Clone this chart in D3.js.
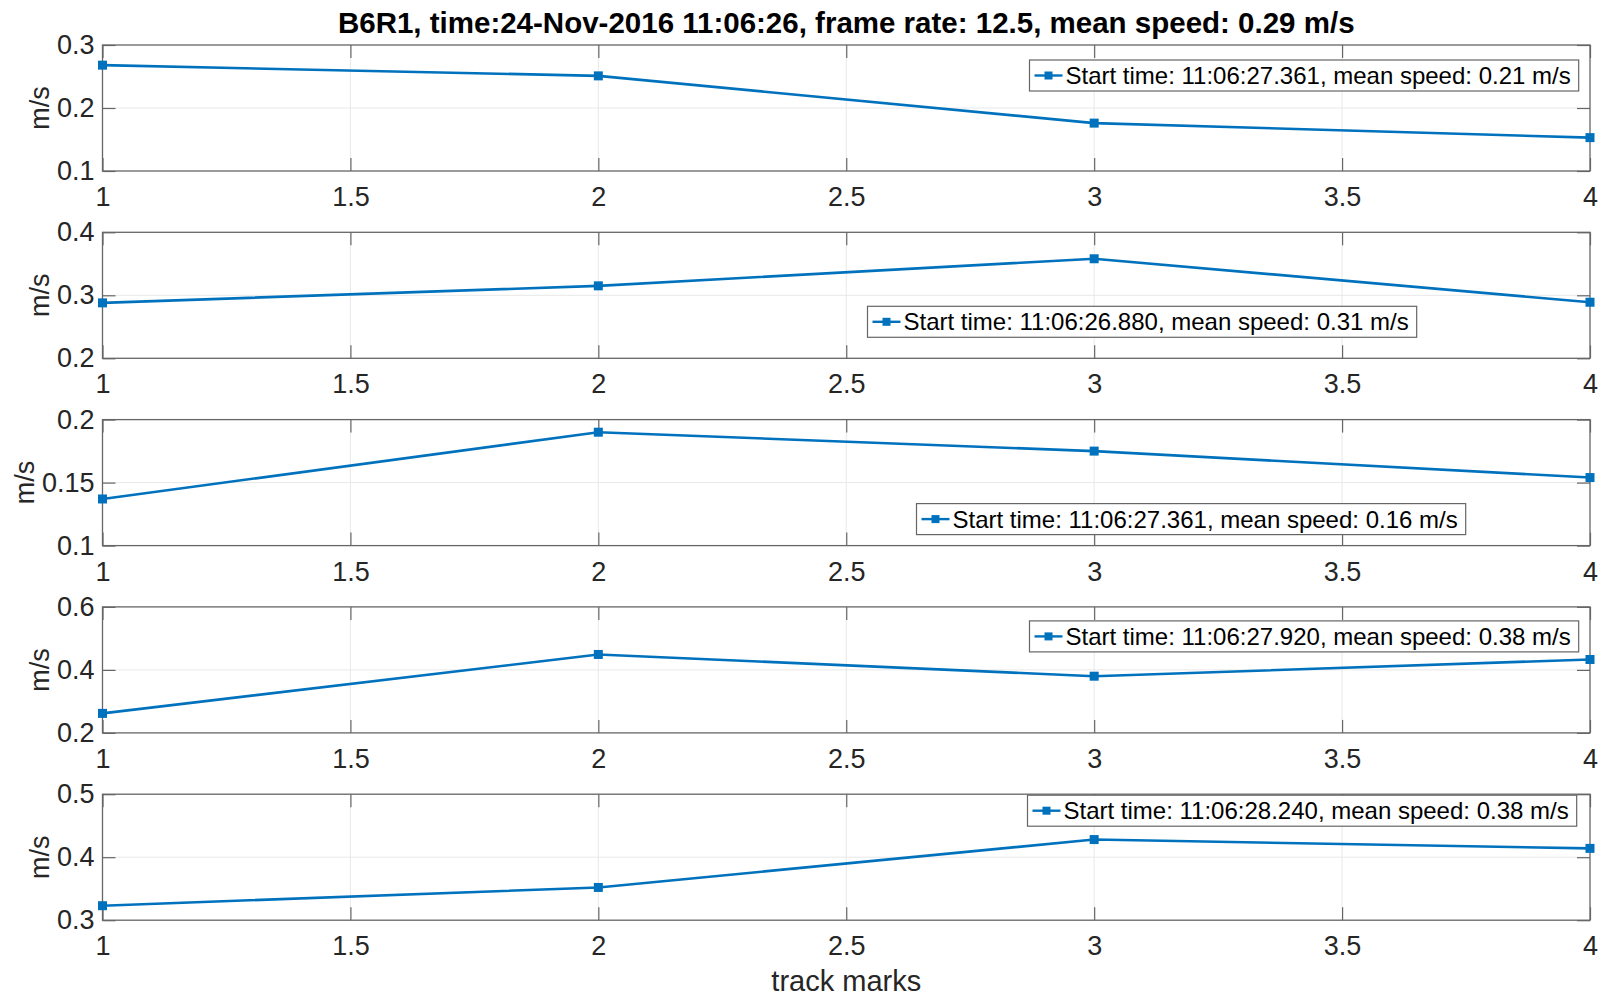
<!DOCTYPE html>
<html lang="en">
<head>
  <meta charset="UTF-8">
  <script src="https://d3js.org/d3.v7.min.js"></script>
  <title>Track speeds</title>
  <style>
    body { margin: 0; background: #fff; }
    svg { display: block; font-family: "Liberation Sans", Arial, sans-serif; }
    .tick-label { font-size: 27px; fill: #262626; }
    .grid line { stroke: #e8e8e8; stroke-width: 1; }
  </style>
</head>
<body>
  <svg id="chart" width="1608" height="999"></svg>

  <script>
    // data
    const titleText = "B6R1, time:24-Nov-2016 11:06:26, frame rate: 12.5, mean speed: 0.29 m/s";
    const xLabel = "track marks";
    const yLabel = "m/s";
    const xTicks = [1, 1.5, 2, 2.5, 3, 3.5, 4];
    const marks = [1, 2, 3, 4];

    const speeds1 = [0.268, 0.251, 0.176, 0.153];
    const speeds2 = [0.288, 0.315, 0.358, 0.289];
    const speeds3 = [0.137, 0.190, 0.175, 0.154];
    const speeds4 = [0.262, 0.449, 0.380, 0.433];
    const speeds5 = [0.323, 0.352, 0.428, 0.414];
    const allSpeeds = [speeds1, speeds2, speeds3, speeds4, speeds5];

    const yDomains = [[0.1, 0.3], [0.2, 0.4], [0.1, 0.2], [0.2, 0.6], [0.3, 0.5]];
    const yTicks = [[0.1, 0.2, 0.3], [0.2, 0.3, 0.4], [0.1, 0.15, 0.2], [0.2, 0.4, 0.6], [0.3, 0.4, 0.5]];

    const legendLabels = [
      "Start time: 11:06:27.361, mean speed: 0.21 m/s",
      "Start time: 11:06:26.880, mean speed: 0.31 m/s",
      "Start time: 11:06:27.361, mean speed: 0.16 m/s",
      "Start time: 11:06:27.920, mean speed: 0.38 m/s",
      "Start time: 11:06:28.240, mean speed: 0.38 m/s"
    ];

    // layout
    const left = 102.5, right = 1590;
    const panelTop0 = 45, panelStep = 187.3, panelH = 126;
    const legendAt = [[927, 15], [765, 74], [814, 84], [927, 14], [925, 1]];
    const blue = "#0072BD";
    const axisColor = "#666";
    const tickLen = 13;

    const svg = d3.select("#chart");

    const x = d3.scaleLinear().domain([1, 4]).range([left, right]);

    svg.append("text")
      .attr("x", (left + right) / 2)
      .attr("y", 33)
      .attr("text-anchor", "middle")
      .style("font-size", "29.5px")
      .style("font-weight", "bold")
      .style("fill", "#000")
      .text(titleText);

    allSpeeds.forEach((speeds, i) => {
      const top = panelTop0 + i * panelStep;
      const bottom = top + panelH;
      const y = d3.scaleLinear().domain(yDomains[i]).range([bottom, top]);
      const g = svg.append("g");

      // grid
      g.append("g").attr("class", "grid")
        .selectAll("line").data(xTicks.slice(1, -1)).join("line")
        .attr("x1", d => x(d)).attr("x2", d => x(d))
        .attr("y1", top).attr("y2", bottom);
      g.append("g").attr("class", "grid")
        .selectAll("line").data(yTicks[i].slice(1, -1)).join("line")
        .attr("x1", left).attr("x2", right)
        .attr("y1", d => y(d)).attr("y2", d => y(d));

      // axes on all four sides, ticks pointing inward
      const axisStyle = sel => {
        sel.attr("font-family", null).attr("font-size", null);
        sel.select(".domain").remove();
        sel.selectAll(".tick line").attr("stroke", axisColor).attr("stroke-width", 1.2);
        sel.selectAll(".tick text").attr("class", "tick-label").attr("fill", null);
      };

      g.append("g")
        .attr("transform", `translate(0,${bottom})`)
        .call(d3.axisBottom(x).tickValues(xTicks).tickSize(-tickLen).tickPadding(16).tickFormat(d3.format("")))
        .call(axisStyle);
      g.append("g")
        .attr("transform", `translate(0,${top})`)
        .call(d3.axisTop(x).tickValues(xTicks).tickSize(-tickLen).tickFormat(""))
        .call(axisStyle);
      const yAxis = g.append("g")
        .attr("transform", `translate(${left},0)`)
        .call(d3.axisLeft(y).tickValues(yTicks[i]).tickSize(-tickLen).tickPadding(8).tickFormat(d3.format("")))
        .call(axisStyle);
      g.append("g")
        .attr("transform", `translate(${right},0)`)
        .call(d3.axisRight(y).tickValues(yTicks[i]).tickSize(-tickLen).tickFormat(""))
        .call(axisStyle);

      // box
      g.append("rect")
        .attr("x", left).attr("y", top)
        .attr("width", right - left).attr("height", panelH)
        .attr("fill", "none").attr("stroke", axisColor).attr("stroke-width", 1.3);

      // y label sits just outside the widest tick label
      const maxW = d3.max(yAxis.selectAll(".tick text").nodes(), n => n.getComputedTextLength());
      g.append("text")
        .attr("transform", `translate(${left - 8 - maxW - 8},${(top + bottom) / 2}) rotate(-90)`)
        .attr("text-anchor", "middle")
        .attr("class", "tick-label")
        .text(yLabel);

      // line + markers
      const pts = marks.map((m, j) => [m, speeds[j]]);
      g.append("path")
        .datum(pts)
        .attr("fill", "none")
        .attr("stroke", blue)
        .attr("stroke-width", 2.6)
        .attr("d", d3.line().x(d => x(d[0])).y(d => y(d[1])));
      g.selectAll("rect.mk").data(pts).join("rect")
        .attr("class", "mk")
        .attr("x", d => x(d[0]) - 4.5).attr("y", d => y(d[1]) - 4.5)
        .attr("width", 9).attr("height", 9)
        .attr("fill", blue);

      // legend
      const lx = left + legendAt[i][0], ly = top + legendAt[i][1];
      const lg = g.append("g").attr("transform", `translate(${lx},${ly})`);
      const box = lg.append("rect").attr("fill", "#fff").attr("stroke", axisColor).attr("stroke-width", 1.2);
      lg.append("line").attr("x1", 5).attr("x2", 33).attr("y1", 15.5).attr("y2", 15.5)
        .attr("stroke", blue).attr("stroke-width", 2.4);
      lg.append("rect").attr("x", 15).attr("y", 11.5).attr("width", 8).attr("height", 8).attr("fill", blue);
      const t = lg.append("text").attr("x", 36).attr("y", 24)
        .style("font-size", "24px").style("fill", "#000")
        .text(legendLabels[i]);
      const w = t.node().getComputedTextLength();
      box.attr("width", w + 44).attr("height", 31);
    });

    svg.append("text")
      .attr("x", (left + right) / 2)
      .attr("y", 991)
      .attr("text-anchor", "middle")
      .attr("class", "tick-label")
      .style("font-size", "29px")
      .text(xLabel);
  </script>
</body>
</html>
